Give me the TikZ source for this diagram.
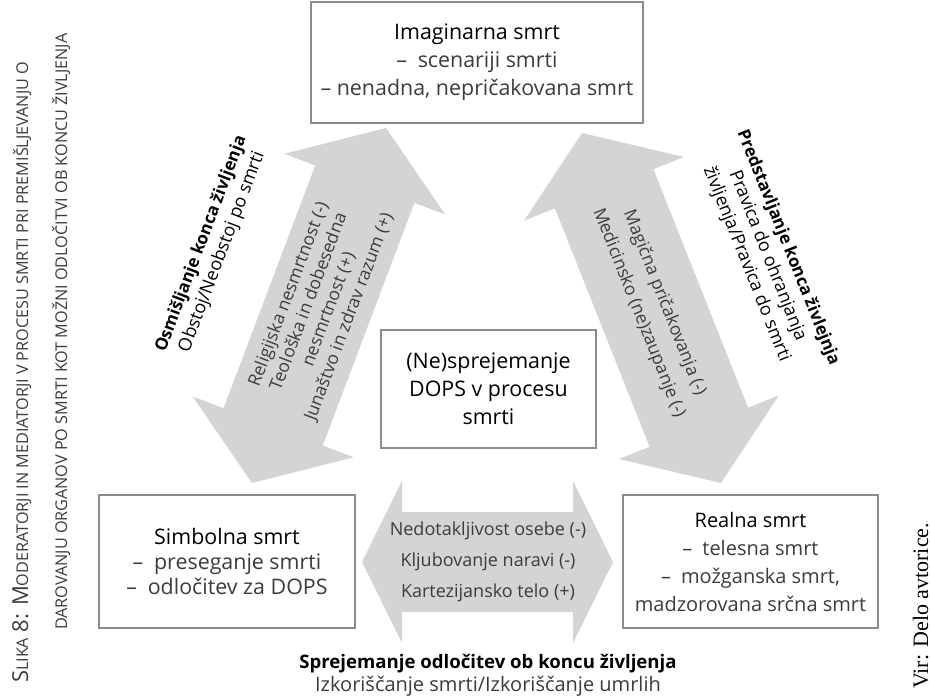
\documentclass[tikz,border=0pt]{standalone}
\usepackage{fontspec}
\setmainfont{Open Sans}
\newfontfamily\virfont{Liberation Serif}
\usetikzlibrary{calc, positioning}
\definecolor{arrowgrey}{RGB}{211,212,214}
\definecolor{boxline}{RGB}{140,140,140}
\definecolor{textgrey}{RGB}{60,60,60}
\tikzset{
  deathbox/.style={draw=boxline, line width=0.8pt, fill=white, align=center,
      font=\fontsize{10.7}{14}\selectfont, inner sep=0pt},
  arrowlbl/.style={align=center, font=\fontsize{8.8}{10.75}\selectfont, text=textgrey},
  sidelbl/.style={align=center, font=\fontsize{9}{11.2}\selectfont},
  capline/.style={rotate=90, anchor=base west, text=textgrey},
}
\newcommand{\scs}[1]{{\fontsize{8.1}{9}\selectfont #1}}
% grey block arrow with a head at both ends: tip, tip, head length, half shaft, half head
\newcommand{\blockarrow}[5]{%
  \coordinate (ba1) at ($(#1)!#3!(#2)$);
  \coordinate (ba2) at ($(#2)!#3!(#1)$);
  \fill[arrowgrey] (#1) -- ($(ba1)!#5!90:(#2)$) -- ($(ba1)!#4!90:(#2)$)
    -- ($(ba2)!#4!-90:(#1)$) -- ($(ba2)!#5!-90:(#1)$) -- (#2)
    -- ($(ba2)!#5!90:(#1)$) -- ($(ba2)!#4!90:(#1)$)
    -- ($(ba1)!#4!-90:(#2)$) -- ($(ba1)!#5!-90:(#2)$) -- cycle;}

\begin{document}
\begin{tikzpicture}[x=0.5pt, y=-0.5pt]
  \path[use as bounding box, fill=white] (0,0) rectangle (930,697);

  % arrows
  \coordinate (lup) at (386,128);
  \coordinate (llow) at (252,483);
  \coordinate (rup) at (582,133);
  \coordinate (rlow) at (721,483);
  \coordinate (hleft) at (362,562);
  \coordinate (hright) at (613,562);
  \blockarrow{lup}{llow}{30pt}{26.5pt}{43pt}
  \blockarrow{rup}{rlow}{30pt}{26.5pt}{43pt}
  \blockarrow{hleft}{hright}{20pt}{25pt}{40.5pt}

  \node[arrowlbl, rotate=69.3] (immortal) at ($(lup)!0.5!(llow)$)
      {Religijska nesmrtnost (-)\\Teološka in dobesedna\\nesmrtnost (+)\\Junaštvo in zdrav razum (+)};
  \node[arrowlbl, rotate=-68.3] (magic) at ($(rup)!0.5!(rlow)$)
      {Magična pričakovanja (-)\\[3pt]Medicinsko (ne)zaupanje (-)};
  \node[align=center, font=\fontsize{9}{15.5}\selectfont, text=textgrey] (traits) at (488,562)
      {Nedotakljivost osebe (-)\\Kljubovanje naravi (-)\\Kartezijansko telo (+)};

  \node[sidelbl, rotate=69.3] (meaning) at (212,248)
      {{\bfseries\fontsize{8.5}{11.2}\selectfont Osmišljanje konca življenja}\\Obstoj/Neobstoj po smrti};
  \node[sidelbl, rotate=-68.3] (represent) at (767,256)
      {{\bfseries\fontsize{8.5}{11.2}\selectfont Predstavljanje konca živlejnja}\\Pravica do ohranjanja\\življenja/Pravica do smrti};

  % boxes
  \node[deathbox, minimum width=166pt, minimum height=60.5pt] (imag) at (477,62.5)
      {Imaginarna smrt\\\textcolor{textgrey}{–\enspace scenariji smrti}\\\textcolor{textgrey}{– nenadna, nepričakovana smrt}};
  \node[deathbox, minimum width=107.5pt, minimum height=59pt] (dops) at (488.5,389)
      {(Ne)sprejemanje\\DOPS v procesu\\smrti};
  \node[deathbox, minimum width=128pt, minimum height=66.5pt, font=\fontsize{10.7}{12.5}\selectfont] (simbol) at (227,561.5)
      {Simbolna smrt\\\textcolor{textgrey}{–\enspace preseganje smrti}\\\textcolor{textgrey}{–\enspace odločitev za DOPS}};
  \node[deathbox, minimum width=127.5pt, minimum height=66.5pt, font=\fontsize{10}{14}\selectfont] (real) at (750.5,561.5)
      {Realna smrt\\\textcolor{textgrey}{–\enspace telesna smrt}\\\textcolor{textgrey}{–\enspace možganska smrt,}\\\textcolor{textgrey}{madzorovana srčna smrt}};

  % bottom labels
  \node[font=\fontsize{9.3}{11}\selectfont\bfseries] (decision) at (488,664)
      {Sprejemanje odločitev ob koncu življenja};
  \node[font=\fontsize{10}{11}\selectfont, text=textgrey] (exploit) at (488,686)
      {Izkoriščanje smrti/Izkoriščanje umrlih};

  % caption and source
  \node[capline, font=\fontsize{11}{12}\selectfont] (cap1) at (28,690)
      {S\scs{LIKA} 8: M\scs{ODERATORJI IN MEDIATORJI V PROCESU SMRTI PRI PREMIŠLJEVANJU O}};
  \node[capline] (cap2) at (67,637)
      {\scs{DAROVANJU ORGANOV PO SMRTI KOT MOŽNI ODLOČITVI OB KONCU ŽIVLJENJA}};
  \node[rotate=90, anchor=base west, font=\virfont\fontsize{11}{12}\selectfont] (source) at (928,696)
      {Vir: Delo avtorice.};
\end{tikzpicture}
\end{document}
